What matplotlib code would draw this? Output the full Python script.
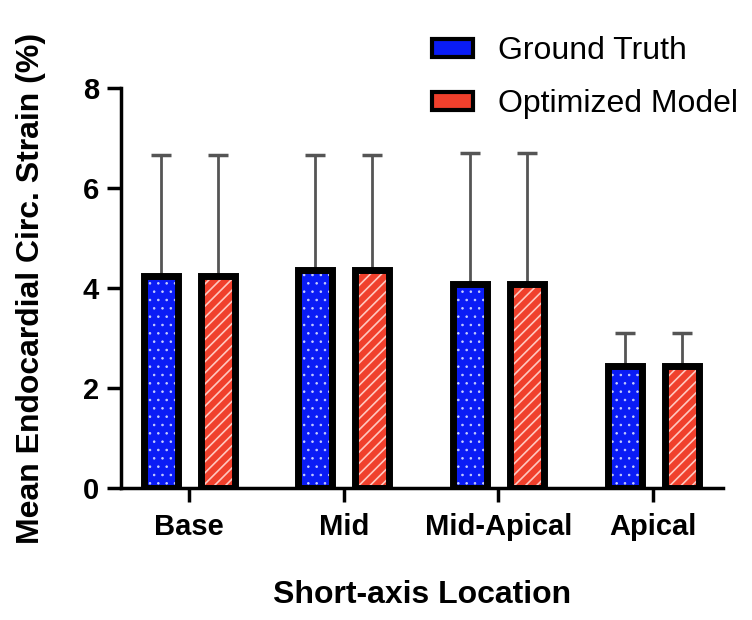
import numpy as np
import matplotlib
matplotlib.use("Agg")
import matplotlib.pyplot as plt
from matplotlib.patches import Patch

plt.rcParams["font.family"] = ["Liberation Sans", "DejaVu Sans"]

locations = ["Base", "Mid", "Mid-Apical", "Apical"]
ground_truth = [4.23, 4.35, 4.08, 2.43]
optimized = [4.23, 4.35, 4.08, 2.43]
gt_sd = [2.43, 2.31, 2.62, 0.67]
opt_sd = [2.43, 2.31, 2.62, 0.67]

blue = "#0a1cf5"
red = "#f0402c"

fig = plt.figure(figsize=(7.52, 6.2), dpi=100)
ax = fig.add_axes([0.161, 0.213, 0.8, 0.645])

x = np.arange(len(locations))
off = 0.184
w = 0.22

for xs, vals, sd, col, hatch, hcol, hlw in [
    (x - off, ground_truth, gt_sd, blue, "..", "#c8d0ff", 0.6),
    (x + off, optimized, opt_sd, red, "///", "#ffc8c0", 1.2),
]:
    ax.errorbar(xs, vals, yerr=[np.zeros(len(vals)), sd], fmt="none",
                ecolor="#555555", elinewidth=2, capsize=7.5, capthick=2.5, zorder=1)
    # fill + light hatch (hatch takes the edge colour, so outline drawn separately)
    plt.rcParams["hatch.linewidth"] = hlw
    ax.bar(xs, vals, w, color=col, edgecolor=hcol, hatch=hatch, linewidth=0, zorder=2)
    ax.bar(xs, vals, w, fill=False, edgecolor="black", linewidth=5, zorder=3)

ax.set_xlim(-0.44, 3.45)
ax.set_ylim(0, 8)
ax.set_yticks([0, 2, 4, 6, 8])
ax.set_xticks(x)
ax.set_xticklabels(locations, fontweight="bold", fontsize=21)
for lab in ax.get_yticklabels():
    lab.set_fontweight("bold")
    lab.set_fontsize(21)

ax.spines["top"].set_visible(False)
ax.spines["right"].set_visible(False)
ax.spines["left"].set_linewidth(2.5)
ax.spines["bottom"].set_linewidth(2.5)
ax.spines["left"].set_bounds(0, 8)
ax.tick_params(axis="y", length=10, width=2.5, pad=6)
ax.tick_params(axis="x", length=10, width=2.5, pad=8)

ax.set_xlabel("Short-axis Location", fontweight="bold", fontsize=23, labelpad=28)
ax.set_ylabel("Mean Endocardial Circ. Strain (%)", fontweight="bold", fontsize=23, labelpad=26)

plt.rcParams["hatch.linewidth"] = 1.0
handles = [
    Patch(facecolor=blue, edgecolor="black", linewidth=3, label="Ground Truth"),
    Patch(facecolor=red, edgecolor="black", linewidth=3, label="Optimized Model"),
]
fig.legend(handles=handles, loc="upper left", bbox_to_anchor=(0.558, 0.962),
           frameon=False, fontsize=23, handlelength=1.28, handleheight=0.47,
           labelspacing=0.72, handletextpad=0.78, borderaxespad=0)

fig.savefig("out.png", dpi=100)
